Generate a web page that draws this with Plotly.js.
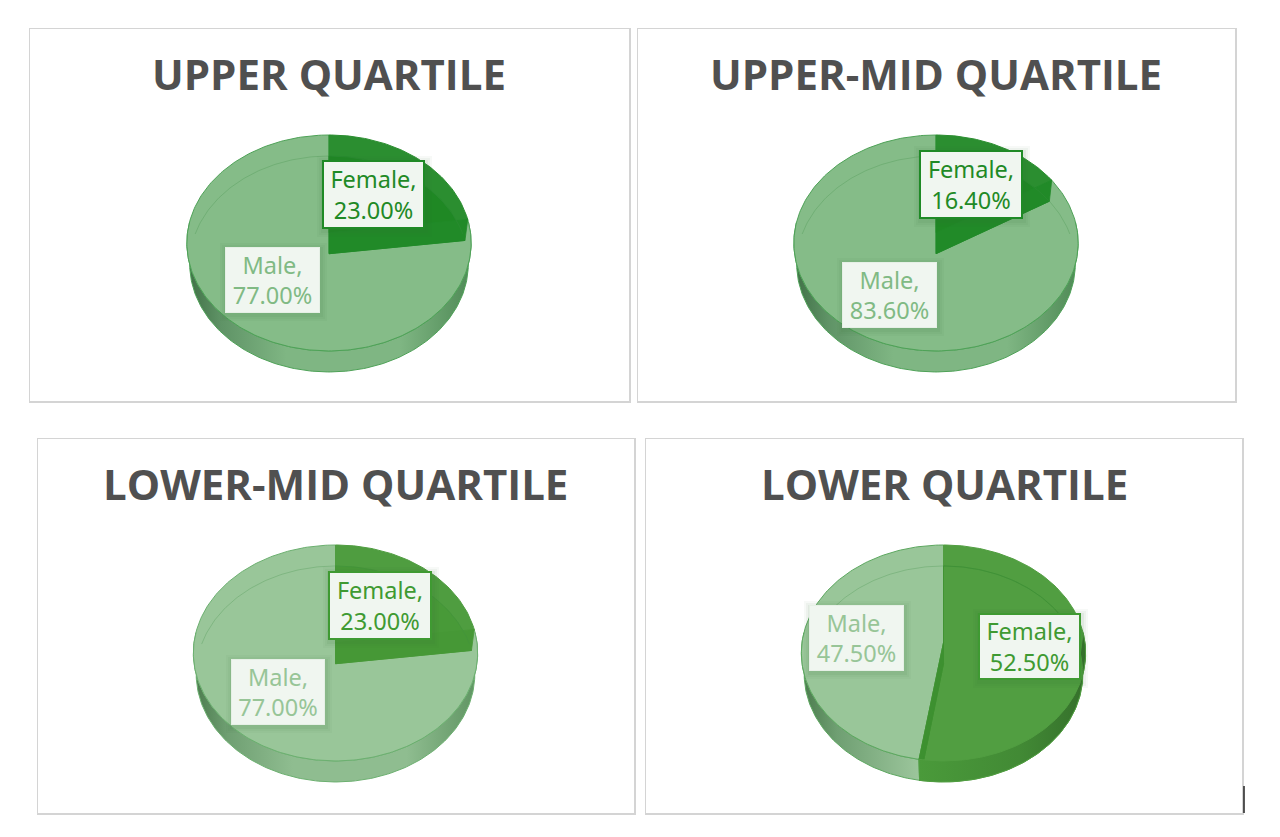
<!DOCTYPE html>
<html>
<head>
<meta charset="utf-8">
<script src="https://cdn.plot.ly/plotly-3.0.1.min.js"></script>
<style>html,body{margin:0;padding:0;background:#fff}#chart{width:1280px;height:837px}</style>
</head>
<body>
<div id="chart"></div>
<script>
// ---- chart data ----
const categories = ["Female", "Male"];
const panelTitles = ["UPPER QUARTILE", "UPPER-MID QUARTILE", "LOWER-MID QUARTILE", "LOWER QUARTILE"];
const femaleShare = [23.0, 16.4, 23.0, 52.5];
const maleShare = [77.0, 83.6, 77.0, 47.5];

// ---- panel layout (pixels) and styling ----
const frames = [
  {l: 30, t: 29, r: 629, b: 401, cx: 329, top: 135, ty: 74, tx: 329},
  {l: 638, t: 29, r: 1235, b: 401, cx: 936, top: 135, ty: 74, tx: 935.5},
  {l: 38, t: 439, r: 634, b: 813, cx: 335.5, top: 545, ty: 483, tx: 335.5},
  {l: 646, t: 439, r: 1242, b: 813, cx: 943.5, top: 545, ty: 483, tx: 944}
];
const femaleBoxes = [[322, 160, 425, 229], [919, 150, 1023, 219], [328, 571, 432, 640], [978, 613, 1081, 680]];
const maleBoxes = [[225, 247, 320, 313], [842, 262, 937, 328], [231, 659, 325, 725], [809, 605, 904, 671]];
const palettes = [
  {m: "#85bc88", f: "#2b8e30", fWedge: "rgba(30,136,36,0.92)", wall: "#218a28", edge: "#4ea257", fText: "#1f8a26", mText: "#80ba84",
   sideM: [[0, "#3f6f45"], [0.12, "#5f9366"], [0.35, "#7fb683"], [0.75, "#7fb683"], [1, "#4f8a56"]], sideF: [[0, "#2b8e30"], [1, "#1f6f26"]]},
  {m: "#85bc88", f: "#2b8e30", fWedge: "rgba(30,136,36,0.92)", wall: "#218a28", edge: "#4ea257", fText: "#1f8a26", mText: "#80ba84",
   sideM: [[0, "#3f6f45"], [0.12, "#5f9366"], [0.35, "#7fb683"], [0.75, "#7fb683"], [1, "#4f8a56"]], sideF: [[0, "#2b8e30"], [1, "#1f6f26"]]},
  {m: "#99c699", f: "#4f9d40", fWedge: "rgba(72,154,56,0.95)", wall: "#469836", edge: "#6cb070", fText: "#3f9a32", mText: "#97c597",
   sideM: [[0, "#4a7a4c"], [0.12, "#6f9f72"], [0.35, "#8fbd90"], [0.75, "#8fbd90"], [1, "#5f9462"]], sideF: [[0, "#4f9d40"], [1, "#37762c"]]},
  {m: "#99c699", f: "#519e41", fWedge: "rgba(81,158,65,1)", wall: "#3d9030", edge: "#5da860", fText: "#3f9a32", mText: "#97c597",
   sideM: [[0, "#4a7a4c"], [0.3, "#6f9f72"], [1, "#9cc69c"]], sideF: [[0, "#4a9a3a"], [0.6, "#428a35"], [1, "#35702b"]]}
];
const TITLE_COLOR = "#505050";
const FRAME_COLOR = "#d4d4d4";

// pie projection: a disc seen in perspective, in pixels relative to the top-face centre
const RADIUS = 141.5, TILT = 107, PERSP = 0.095, DEPTH = 21, BASE_X = 0.98;
function topPt(a) {
  const u = Math.sin(a), v = Math.cos(a), w = 1 + PERSP * v;
  return [RADIUS * u / w, TILT * v / w];
}
function basePt(a) {
  const p = topPt(a);
  return [p[0] * BASE_X, p[1] - DEPTH];
}
function arc(fn, a0, a1) {
  const n = Math.max(2, Math.ceil(Math.abs(a1 - a0) / 0.02));
  const out = [];
  for (let i = 0; i <= n; i++) out.push(fn(a0 + (a1 - a0) * i / n));
  return out;
}
const TAU = 2 * Math.PI;
function poly(points, ax, opts) {
  return Object.assign({
    type: "scatter", mode: "lines", x: points.map(p => p[0]), y: points.map(p => p[1]),
    xaxis: "x" + ax, yaxis: "y" + ax, hoverinfo: "skip", showlegend: false, line: {width: 0}
  }, opts);
}
const traces = [];
const shapes = [];
const annotations = [];
const layout = {
  width: 1280, height: 837, margin: {l: 0, r: 0, t: 0, b: 0},
  paper_bgcolor: "#fff", plot_bgcolor: "#fff", showlegend: false,
  font: {family: "Noto Sans, sans-serif"}
};

frames.forEach((f, i) => {
  const ax = i === 0 ? "" : String(i + 1);
  const pal = palettes[i];
  const cy = f.top + TILT / (1 + PERSP);     // pixel row of the top-face centre
  const split = TAU * femaleShare[i] / (femaleShare[i] + maleShare[i]);
  const X = v => v - f.cx, Y = v => cy - v;

  layout["xaxis" + ax] = {
    domain: [f.l / 1280, f.r / 1280], range: [f.l - f.cx, f.r - f.cx], anchor: "y" + ax,
    showgrid: false, zeroline: false, showticklabels: false, ticks: "",
    showline: true, mirror: true, linecolor: FRAME_COLOR, linewidth: 1.5, fixedrange: true
  };
  layout["yaxis" + ax] = {
    domain: [1 - f.b / 837, 1 - f.t / 837], range: [cy - f.b, cy - f.t], anchor: "x" + ax,
    showgrid: false, zeroline: false, showticklabels: false, ticks: "",
    showline: true, mirror: true, linecolor: FRAME_COLOR, linewidth: 1.5, fixedrange: true
  };

  // front-facing side walls of each slice
  const frontA = TAU * 0.235, frontB = TAU * 0.765;
  const wall = (a0, a1, scale, edge) => {
    const s = Math.max(a0, frontA), e = Math.min(a1, frontB);
    if (e <= s) return;
    const pts = arc(topPt, s, e).concat(arc(basePt, e, s));
    pts.push(pts[0]);
    traces.push(poly(pts, ax, {fill: "toself", fillgradient: {type: "horizontal", colorscale: scale},
      line: {width: 1, color: edge}, name: "side"}));
  };
  wall(split, TAU, pal.sideM, pal.edge);

  // top face: male then female
  const maleTop = [[0, 0]].concat(arc(topPt, split, TAU)); maleTop.push([0, 0]);
  traces.push(poly(maleTop, ax, {fill: "toself", fillcolor: pal.m, line: {width: 1, color: pal.edge}, name: categories[1]}));
  const femTop = [[0, 0]].concat(arc(topPt, 0, split)); femTop.push([0, 0]);
  traces.push(poly(femTop, ax, {fill: "toself", fillcolor: pal.f, line: {width: 1, color: pal.f}, name: categories[0]}));

  // the base of the female slice and cut wall, seen through the translucent top
  const b0 = basePt(0);
  const femBase = [b0].concat(arc(basePt, 0, split).slice(1));
  femBase.unshift([0, -DEPTH]); femBase.push([0, -DEPTH]);
  traces.push(poly(femBase, ax, {fill: "toself", fillcolor: pal.fWedge, line: {width: 0.8, color: pal.wall}, name: "base"}));
  const rim = topPt(split), rimB = basePt(split);
  traces.push(poly([[0, 0], rim, rimB, [0, -DEPTH], [0, 0]], ax,
    {fill: "toself", fillcolor: pal.wall, line: {width: 0.8, color: pal.wall}, name: "cut"}));

  wall(0, split, pal.sideF, pal.f);

  // faint far edge of the base, seen through the top
  traces.push(poly(arc(basePt, -TAU * 0.22, TAU * 0.22), ax, {line: {width: 1, color: "rgba(60,140,70,0.28)"}, name: "base edge"}));

  // title
  annotations.push({
    xref: "x" + ax, yref: "y" + ax, x: X(f.tx), y: Y(f.ty), showarrow: false,
    text: "<b>" + panelTitles[i] + "</b>", font: {family: "Open Sans, sans-serif", size: 42, color: TITLE_COLOR}
  });

  // data labels
  const label = (box, text, color, border, bw) => {
    const [l, t, r, b] = box;
    [[6, 0.04], [4, 0.05], [2, 0.07]].forEach(([g, al]) => shapes.push({
      type: "rect", xref: "x" + ax, yref: "y" + ax, layer: "above", line: {width: 0},
      x0: X(l + 1 - g), x1: X(r + 1 + g), y0: Y(t + 2 - g), y1: Y(b + 2 + g), fillcolor: "rgba(50,110,55," + al + ")"
    }));
    annotations.push({
      xref: "x" + ax, yref: "y" + ax, x: X((l + r) / 2), y: Y((t + b) / 2), showarrow: false,
      text: text, align: "center", valign: "middle", width: r - l - 2 * bw, height: b - t - 2 * bw,
      bgcolor: "#f0f6f0", bordercolor: border, borderwidth: bw, borderpad: 0,
      font: {family: "Noto Sans, sans-serif", size: 23.5, color: color}
    });
  };
  label(femaleBoxes[i], categories[0] + ",<br>" + femaleShare[i].toFixed(2) + "%", pal.fText, pal.fText, 2);
  label(maleBoxes[i], categories[1] + ",<br>" + maleShare[i].toFixed(2) + "%", pal.mText, "#e6f0e6", 1);
});

// text cursor at the lower right of the picture
shapes.push({type: "line", xref: "paper", yref: "paper", x0: 1244 / 1280, x1: 1244 / 1280,
  y0: 1 - 813 / 837, y1: 1 - 786 / 837, line: {color: "#222", width: 1.5}});

layout.shapes = shapes;
layout.annotations = annotations;
Plotly.newPlot("chart", traces, layout, {displayModeBar: false, staticPlot: true});
</script>
</body>
</html>
